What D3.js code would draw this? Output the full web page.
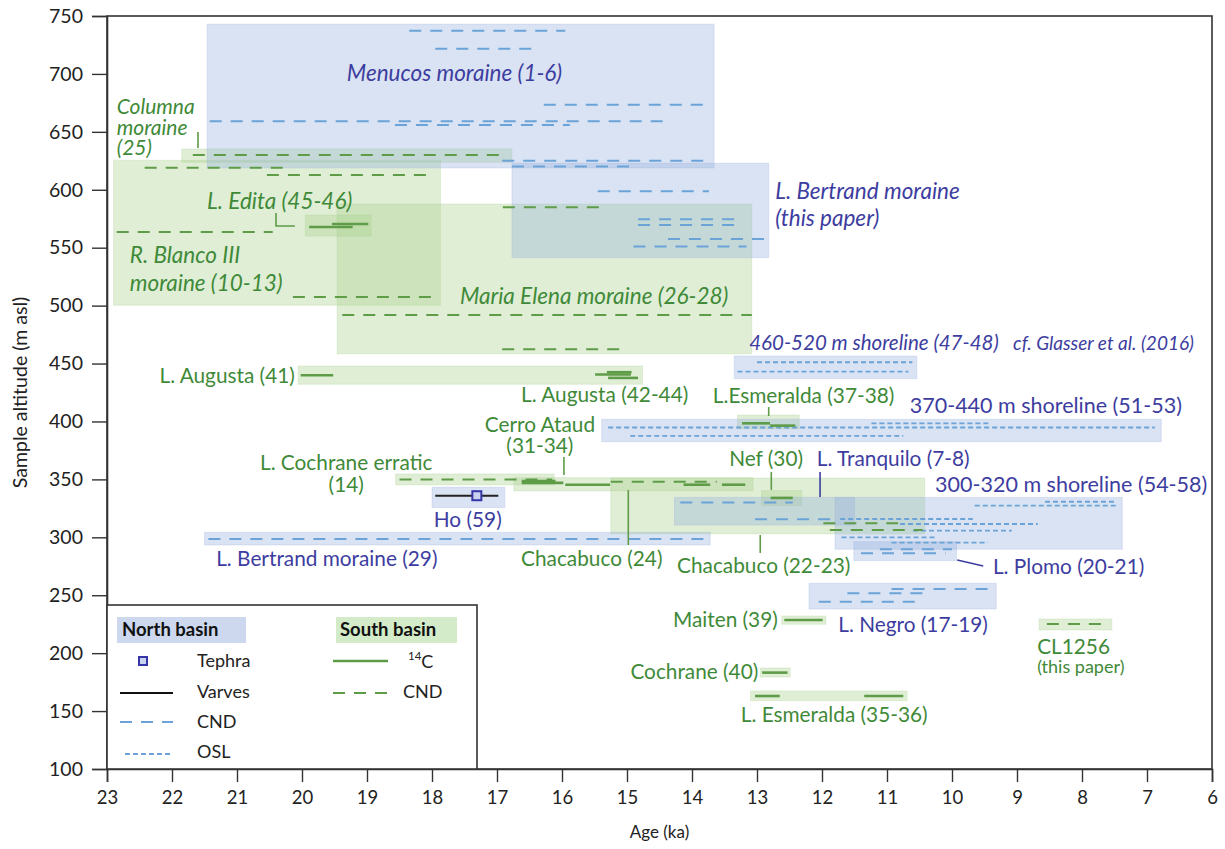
<!DOCTYPE html>
<html><head><meta charset="utf-8">
<script src="https://cdn.jsdelivr.net/npm/d3@7/dist/d3.min.js"></script>
<style>
body{margin:0;background:#fff;}
svg{display:block;font-family:Lato,"Open Sans","DejaVu Sans",sans-serif;}
</style>
</head><body>
<svg id="chart" width="1225" height="849"></svg>
<script>
// ---------- tick labels ----------
const xTickValues = [23,22,21,20,19,18,17,16,15,14,13,12,11,10,9,8,7,6];
const yTickValues = [100,150,200,250,300,350,400,450,500,550,600,650,700,750];

// ---------- boxes: [name, age0, age1, alt0, alt1] ----------
const northBoxes = [
  ["Menucos moraine", 21.46, 13.66, 618.8, 743],
  ["L. Bertrand moraine (this paper)", 16.77, 12.82, 541.4, 622.9],
  ["460-520 m shoreline", 13.35, 10.54, 436.9, 456.5],
  ["370-440 m shoreline", 15.39, 6.78, 382.5, 401.9],
  ["L. Tranquilo", 14.27, 11.5, 310.6, 334.5],
  ["300-320 m shoreline", 11.8, 7.38, 289.7, 334.5],
  ["L. Plomo", 11.51, 9.93, 279.8, 296.2],
  ["Ho", 18.0, 16.88, 325.6, 343.2],
  ["L. Bertrand moraine (29)", 21.5, 13.72, 293.4, 304.3],
  ["L. Negro", 12.2, 9.32, 238.1, 260.3]
];
const southBoxes = [
  ["Columna moraine", 21.85, 16.77, 623.7, 635.2],
  ["R. Blanco III moraine", 22.9, 17.87, 500.3, 625.4],
  ["L. Edita", 19.95, 18.94, 560, 578.2],
  ["Maria Elena moraine", 19.46, 13.08, 458.3, 587.7],
  ["L. Augusta", 20.06, 14.76, 432.1, 447.9],
  ["L. Esmeralda (37-38)", 13.3, 12.35, 393.5, 405.6],
  ["L. Cochrane erratic", 18.56, 16.12, 345.2, 354.7],
  ["Cerro Ataud", 16.74, 13.06, 340, 351.5],
  ["Chacabuco", 15.25, 10.42, 302.9, 351.2],
  ["Nef", 12.93, 12.31, 327.5, 340.4],
  ["Maiten", 12.62, 11.94, 224.9, 232.1],
  ["CL1256", 8.66, 7.54, 220, 229.5],
  ["Cochrane", 12.95, 12.49, 179.4, 187.2],
  ["L. Esmeralda (35-36)", 13.1, 10.69, 159, 167.4]
];

// ---------- age ranges: [age0, age1, altitude] ----------
const northCND = [
  [18.35,15.95,737.3],[17.95,16.45,721.8],[16.28,13.79,673.4],[21.42,14.35,659.1],
  [18.57,15.88,656],[16.92,13.79,625.1],[16.77,14.95,620],
  [15.45,13.74,598.7],[14.83,13.32,574.5],[14.83,13.32,569.5],[14.37,12.88,557.5],[14.9,13.16,551],
  [21.44,13.8,298.5],
  [14.18,12.45,330],[13.03,11.83,315.6],
  [11.11,10.0,289.7],[11.4,10.1,286.2],
  [10.93,9.42,255.4],[11.61,10.41,251.7],[12.05,10.56,244.4]
];
const northOSL = [
  [13.0,10.61,451.1],[13.3,10.67,443],
  [15.29,6.88,394.8],[14.95,10.75,387.5],[11.24,9.42,398.4],
  [9.65,7.44,327.3],[8.57,7.49,330.7],[11.72,9.68,315.8],[10.8,8.68,311.5],
  [10.6,9.08,305.7],[11.7,10.26,300],[10.93,9.45,295.4]
];
const southCND = [
  [21.68,16.9,630],
  [22.42,20.28,619],[20.54,18.06,612.8],[22.85,20.45,563.6],[20.14,17.98,507.5],
  [16.91,15.42,584.9],[19.38,13.08,492],[16.92,15.1,462.3],
  [18.5,16.15,350],[15.25,13.62,348],
  [11.98,10.83,312.1],[11.88,10.45,306.3],
  [8.54,7.6,225.2]
];
const south14C = [
  [19.89,19.22,567.9],[19.54,18.98,570.5],
  [20.02,19.52,439.9],
  [15.31,14.93,442.5],[15.49,14.94,440.5],[15.29,14.83,437.6],
  [16.62,16.1,348.6],[16.62,15.98,347],[15.95,15.26,345.4],
  [14.13,13.72,345.4],[13.54,13.18,345.4],
  [13.23,12.8,398.4],[12.8,12.41,396.4],
  [12.79,12.45,334],
  [12.58,11.99,228.6],
  [12.92,12.53,183.2],
  [13.03,12.65,163],[11.35,10.75,163]
];
const varves = [[17.95,16.98,335.9]];
const tephra = [[17.31,335.9]];

// ---------- leader lines: basin, points [age, alt] ----------
const leaders = [
  ["S", [[21.6,649.9],[21.6,636.1]]],
  ["S", [[20.4,580],[20.4,568.7],[20.11,568.7]]],
  ["S", [[15.97,369.3],[15.97,353.8]]],
  ["S", [[12.82,412.5],[12.82,404.7]]],
  ["S", [[12.78,356.4],[12.78,340.9]]],
  ["N", [[12.03,356.4],[12.03,334.8]]],
  ["S", [[14.98,340.9],[14.98,293.4]]],
  ["S", [[12.95,302.0],[12.95,286.5]]],
  ["N", [[9.92,280.4],[9.52,275.3]]]
];

// ---------- labels: text, age, alt, basin, anchor, kind ----------
const labels = [
  ["Menucos moraine (1-6)", 19.31, 700.8, "N", "start", "moraine"],
  ["L. Bertrand moraine", 12.72, 598.9, "N", "start", "moraine"],
  ["(this paper)", 12.72, 575.6, "N", "start", "moraine"],
  ["Columna", 22.85, 671.5, "S", "start", "stack"],
  ["moraine", 22.85, 654.0, "S", "start", "stack"],
  ["(25)", 22.85, 636.5, "S", "start", "stack"],
  ["L. Edita (45-46)", 21.46, 590.3, "S", "start", "moraine"],
  ["R. Blanco III", 22.65, 543.7, "S", "start", "moraine"],
  ["moraine  (10-13)", 22.65, 519.5, "S", "start", "moraine"],
  ["Maria Elena moraine (26-28)", 17.57, 508.3, "S", "start", "moraine"],
  ["460-520 m shoreline (47-48)", 13.12, 467.7, "N", "start", "shore-italic"],
  ["cf. Glasser et al. (2016)", 9.06, 467.7, "N", "start", "small-italic"],
  ["L. Augusta (41)", 20.11, 439.3, "S", "end", "site"],
  ["L. Augusta (42-44)", 16.63, 422.8, "S", "start", "site"],
  ["L.Esmeralda (37-38)", 13.68, 422.0, "S", "start", "site"],
  ["370-440 m shoreline (51-53)", 10.65, 414.2, "N", "start", "big"],
  ["Cerro Ataud", 16.34, 397.0, "S", "middle", "site"],
  ["(31-34)", 16.34, 378.8, "S", "middle", "site"],
  ["L. Cochrane erratic", 19.32, 364.2, "S", "middle", "site"],
  ["(14)", 19.32, 345.2, "S", "middle", "site"],
  ["Nef (30)", 12.86, 367.6, "S", "middle", "site"],
  ["L. Tranquilo (7-8)", 12.08, 367.6, "N", "start", "site"],
  ["300-320 m shoreline (54-58)", 10.26, 346.0, "N", "start", "big"],
  ["Ho (59)", 17.45, 314.9, "N", "middle", "site"],
  ["L. Bertrand moraine (29)", 21.32, 281.3, "N", "start", "site"],
  ["Chacabuco (24)", 16.63, 281.3, "S", "start", "site"],
  ["Chacabuco (22-23)", 14.23, 275.3, "S", "start", "site"],
  ["L. Plomo (20-21)", 9.37, 274.4, "N", "start", "site"],
  ["L. Negro (17-19)", 11.75, 224.3, "N", "start", "site"],
  ["Maiten (39)", 12.68, 228.6, "S", "end", "site"],
  ["CL1256", 8.69, 205.3, "S", "start", "site"],
  ["(this paper)", 8.69, 188.1, "S", "start", "small"],
  ["Cochrane (40)", 12.98, 183.8, "S", "end", "site"],
  ["L. Esmeralda (35-36)", 13.25, 146.6, "S", "start", "site"]
];

// ---------- styling ----------
const COL = {
  blueFill: "#93acdc", greenFill: "#a8d18d",
  blueText: "#3d3d9f", greenText: "#3f8a38",
  blueDash: "#6ba3d8", greenLine: "#5e9c48",
  axis: "#333"
};
const W = 1225, H = 849;
const M = {left: 107, right: 13, top: 16, bottom: 80};

const svg = d3.select("#chart");
const x = d3.scaleLinear().domain([23, 6]).range([M.left, W - M.right]);
const y = d3.scaleLinear().domain([100, 750]).range([H - M.bottom, M.top]);

// boxes
const boxG = svg.append("g");
function drawBoxes(data, fill, op) {
  boxG.selectAll(null).data(data).enter().append("rect")
    .attr("x", d => x(d[1])).attr("width", d => x(d[2]) - x(d[1]))
    .attr("y", d => y(d[4])).attr("height", d => y(d[3]) - y(d[4]))
    .attr("fill", fill).attr("fill-opacity", op)
    .attr("stroke", fill).attr("stroke-opacity", 0.25).attr("stroke-width", 1);
}
drawBoxes(southBoxes, COL.greenFill, 0.36);
drawBoxes(northBoxes, COL.blueFill, 0.34);

// range lines
const lineG = svg.append("g");
function drawRanges(data, color, dash, width) {
  lineG.selectAll(null).data(data).enter().append("line")
    .attr("x1", d => x(d[0])).attr("x2", d => x(d[1]))
    .attr("y1", d => y(d[2])).attr("y2", d => y(d[2]))
    .attr("stroke", color).attr("stroke-width", width)
    .attr("stroke-dasharray", dash);
}
drawRanges(northCND, COL.blueDash, "12,9", 2);
drawRanges(northOSL, COL.blueDash, "5,3", 1.8);
drawRanges(southCND, COL.greenLine, "12,9", 2);
drawRanges(south14C, COL.greenLine, null, 2.6);
drawRanges(varves, "#222", null, 2);

lineG.selectAll(null).data(tephra).enter().append("rect")
  .attr("x", d => x(d[0]) - 4.5).attr("y", d => y(d[1]) - 4.5)
  .attr("width", 9).attr("height", 9)
  .attr("fill", "#c9d3ee").attr("stroke", "#3535a8").attr("stroke-width", 2);

// leaders
const lineGen = d3.line().x(d => x(d[0])).y(d => y(d[1]));
lineG.selectAll(null).data(leaders).enter().append("path")
  .attr("d", d => lineGen(d[1])).attr("fill", "none")
  .attr("stroke", d => d[0] === "N" ? COL.blueText : COL.greenLine)
  .attr("stroke-width", 1.6);

// labels
const kindStyle = {
  moraine: {size: 22.5, italic: true},
  stack: {size: 21, italic: true},
  "shore-italic": {size: 20.5, italic: true},
  "small-italic": {size: 19, italic: true},
  site: {size: 20.8, italic: false},
  big: {size: 21.5, italic: false},
  small: {size: 18, italic: false}
};
svg.append("g").selectAll(null).data(labels).enter().append("text")
  .attr("x", d => x(d[1])).attr("y", d => y(d[2])).attr("dy", "0.35em")
  .attr("text-anchor", d => d[4])
  .attr("fill", d => d[3] === "N" ? COL.blueText : COL.greenText)
  .attr("font-size", d => kindStyle[d[5]].size)
  .attr("font-style", d => kindStyle[d[5]].italic ? "italic" : "normal")
  .text(d => d[0]);

// axes
const xAxis = svg.append("g").attr("transform", `translate(0,${H - M.bottom})`)
  .call(d3.axisBottom(x).tickValues(xTickValues).tickSize(13).tickPadding(9).tickFormat(d3.format("d")));
const yAxis = svg.append("g").attr("transform", `translate(${M.left},0)`)
  .call(d3.axisLeft(y).tickValues(yTickValues).tickSize(15).tickPadding(9).tickFormat(d3.format("d")));
[xAxis, yAxis].forEach(g => {
  g.select(".domain").attr("stroke", COL.axis).attr("stroke-width", 1.6);
  g.selectAll(".tick line").attr("stroke", COL.axis).attr("stroke-width", 1.4);
  g.selectAll(".tick text").attr("fill", "#222")
    .attr("font-family", "Lato, 'Open Sans', sans-serif");
});
xAxis.selectAll(".tick text").attr("font-size", 18.5);
yAxis.selectAll(".tick text").attr("font-size", 19.5);

// frame
svg.append("rect").attr("x", M.left).attr("y", M.top)
  .attr("width", W - M.left - M.right).attr("height", H - M.top - M.bottom)
  .attr("fill", "none").attr("stroke", COL.axis).attr("stroke-width", 1.6);

// axis titles
svg.append("text").attr("x", (M.left + W - M.right) / 2).attr("y", 832).attr("dy", "0.35em")
  .attr("text-anchor", "middle").attr("font-size", 17).attr("fill", "#222").text("Age (ka)");
svg.append("text").attr("transform", `translate(20,${(M.top + H - M.bottom) / 2}) rotate(-90)`)
  .attr("dy", "0.35em").attr("text-anchor", "middle").attr("font-size", 19.5).attr("fill", "#222")
  .text("Sample altitude (m asl)");

// legend
const lg = svg.append("g");
lg.append("rect").attr("x", M.left).attr("y", 605).attr("width", 370).attr("height", H - M.bottom - 605)
  .attr("fill", "#fff").attr("stroke", COL.axis).attr("stroke-width", 1.6);
lg.append("rect").attr("x", 117).attr("y", 617).attr("width", 129).attr("height", 26).attr("fill", "#cdd8ef");
lg.append("rect").attr("x", 336).attr("y", 617).attr("width", 121).attr("height", 26).attr("fill", "#d3ebc8");
lg.append("text").attr("x", 122).attr("y", 630).attr("dy", "0.35em").attr("font-size", 18.5)
  .attr("font-weight", "bold").attr("fill", "#111").text("North basin");
lg.append("text").attr("x", 340).attr("y", 630).attr("dy", "0.35em").attr("font-size", 18.5)
  .attr("font-weight", "bold").attr("fill", "#111").text("South basin");
lg.append("rect").attr("x", 139).attr("y", 657).attr("width", 8).attr("height", 8)
  .attr("fill", "#c9d3ee").attr("stroke", "#3535a8").attr("stroke-width", 2);
const legLines = [
  [120, 173, 693, "#111", null, 2.2],
  [120, 173, 722, COL.blueDash, "12,9", 2.2],
  [125, 173, 754, COL.blueDash, "5,3", 1.8],
  [333, 388, 661, COL.greenLine, null, 2.4],
  [333, 388, 693, COL.greenLine, "12,9", 2.2]
];
lg.selectAll(null).data(legLines).enter().append("line")
  .attr("x1", d => d[0]).attr("x2", d => d[1]).attr("y1", d => d[2]).attr("y2", d => d[2])
  .attr("stroke", d => d[3]).attr("stroke-dasharray", d => d[4]).attr("stroke-width", d => d[5]);
const legTexts = [["Tephra", 197, 661], ["Varves", 197, 692], ["CND", 197, 722], ["OSL", 197, 752], ["CND", 403, 692]];
lg.selectAll(null).data(legTexts).enter().append("text")
  .attr("x", d => d[1]).attr("y", d => d[2]).attr("dy", "0.35em").attr("font-size", 18).attr("fill", "#222")
  .text(d => d[0]);
const c14 = lg.append("text").attr("x", 408).attr("y", 661).attr("dy", "0.35em").attr("font-size", 18).attr("fill", "#222");
c14.append("tspan").attr("font-size", 11.5).attr("dy", "-0.1em").text("14");
c14.append("tspan").attr("dy", "0.45em").text("C");
</script>
</body></html>
